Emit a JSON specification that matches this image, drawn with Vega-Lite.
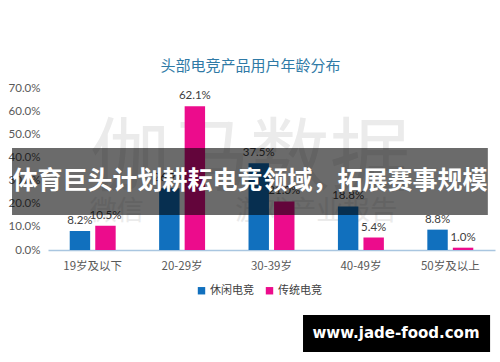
{
  "$schema": "https://vega.github.io/schema/vega-lite/v6.json",
  "width": 447,
  "height": 162,
  "autosize": {"type": "none"},
  "padding": {"left": 48, "top": 88, "right": 5, "bottom": 112},
  "background": "white",
  "config": {
    "view": {"stroke": null},
    "font": "Noto Sans CJK SC",
    "axisY": {"labelOverlap": false, "domain": false, "ticks": false, "gridDash": [3, 3], "gridColor": "#d9d9d9", "labelFontSize": 11.5, "labelColor": "#595959", "labelPadding": 8, "labelFont": "Lato"}
  },
  "title": {"text": "头部电竞产品用户年龄分布", "fontSize": 15, "fontWeight": "normal", "color": "#2f7aa6", "anchor": "middle", "dx": -21, "offset": 8},
  "data": {"values": [
    {"age": "19岁及以下", "type": "休闲电竞", "value": 0.082},
    {"age": "19岁及以下", "type": "传统电竞", "value": 0.105},
    {"age": "20-29岁", "type": "休闲电竞", "value": 0.267},
    {"age": "20-29岁", "type": "传统电竞", "value": 0.621},
    {"age": "30-39岁", "type": "休闲电竞", "value": 0.375},
    {"age": "30-39岁", "type": "传统电竞", "value": 0.210},
    {"age": "40-49岁", "type": "休闲电竞", "value": 0.188},
    {"age": "40-49岁", "type": "传统电竞", "value": 0.054},
    {"age": "50岁及以上", "type": "休闲电竞", "value": 0.088},
    {"age": "50岁及以上", "type": "传统电竞", "value": 0.010}
  ]},
  "layer": [
    {
      "data": {"values": [{}]},
      "mark": {"type": "text", "text": "伽马数据", "fontSize": 80, "color": "#ebebeb", "align": "center", "baseline": "middle"},
      "encoding": {
        "x": {"datum": 45.2, "type": "quantitative", "scale": {"domain": [0, 100]}, "axis": null},
        "y": {"datum": 0.389, "type": "quantitative", "scale": {"domain": [0, 0.7]}, "axis": {"title": null, "values": [0, 0.1, 0.2, 0.3, 0.4, 0.5, 0.6, 0.7], "format": ".1%"}}
      }
    },
    {
      "data": {"values": [{}]},
      "mark": {"type": "text", "text": "微信", "fontSize": 27, "color": "#ebebeb", "align": "center", "baseline": "middle"},
      "encoding": {
        "x": {"datum": 15.4, "type": "quantitative", "scale": {"domain": [0, 100]}, "axis": null},
        "y": {"datum": 0.164, "type": "quantitative", "scale": {"domain": [0, 0.7]}, "axis": {"title": null, "values": [0, 0.1, 0.2, 0.3, 0.4, 0.5, 0.6, 0.7], "format": ".1%"}}
      }
    },
    {
      "data": {"values": [{}]},
      "mark": {"type": "text", "text": "游戏产业报告", "fontSize": 27, "letterSpacing": 4, "color": "#ebebeb", "align": "center", "baseline": "middle"},
      "encoding": {
        "x": {"datum": 60.0, "type": "quantitative", "scale": {"domain": [0, 100]}, "axis": null},
        "y": {"datum": 0.164, "type": "quantitative", "scale": {"domain": [0, 0.7]}, "axis": {"title": null, "values": [0, 0.1, 0.2, 0.3, 0.4, 0.5, 0.6, 0.7], "format": ".1%"}}
      }
    },
    {
      "mark": {"type": "bar"},
      "encoding": {
        "x": {"field": "age", "type": "nominal", "sort": ["19岁及以下", "20-29岁", "30-39岁", "40-49岁", "50岁及以上"],
              "scale": {"paddingInner": 0.486, "paddingOuter": 0.243},
              "axis": {"title": null, "labelAngle": 0, "ticks": false, "domainColor": "#a9c6e0", "domainWidth": 1.5, "labelFontSize": 11.5, "labelColor": "#595959", "labelPadding": 10}},
        "xOffset": {"field": "type", "type": "nominal", "sort": ["休闲电竞", "传统电竞"], "scale": {"paddingInner": 0.2}},
        "y": {"field": "value", "type": "quantitative", "scale": {"domain": [0, 0.7]}, "axis": {"title": null, "values": [0, 0.1, 0.2, 0.3, 0.4, 0.5, 0.6, 0.7], "format": ".1%"}},
        "color": {"field": "type", "type": "nominal", "scale": {"domain": ["休闲电竞", "传统电竞"], "range": ["#1170be", "#ec0c8c"]},
                  "legend": {"title": null, "orient": "none", "legendX": 148, "legendY": 197, "direction": "horizontal", "symbolType": "square", "symbolSize": 55, "labelFontSize": 11, "labelOffset": 3, "labelColor": "#404040", "columnPadding": 10}}
      }
    },
    {
      "mark": {"type": "text", "baseline": "bottom", "dy": -5, "fontSize": 11.5, "color": "#404040", "font": "Lato"},
      "encoding": {
        "x": {"field": "age", "type": "nominal", "sort": ["19岁及以下", "20-29岁", "30-39岁", "40-49岁", "50岁及以上"],
              "scale": {"paddingInner": 0.486, "paddingOuter": 0.243}, "axis": null},
        "xOffset": {"field": "type", "type": "nominal", "sort": ["休闲电竞", "传统电竞"], "scale": {"paddingInner": 0.2}},
        "y": {"field": "value", "type": "quantitative", "scale": {"domain": [0, 0.7]}, "axis": {"title": null, "values": [0, 0.1, 0.2, 0.3, 0.4, 0.5, 0.6, 0.7], "format": ".1%"}},
        "text": {"field": "value", "type": "quantitative", "format": ".1%"}
      }
    },
    {
      "data": {"values": [{}]},
      "mark": {"type": "rect", "color": "#000000", "opacity": 0.58},
      "encoding": {
        "x": {"datum": -8.05, "type": "quantitative", "scale": {"domain": [0, 100]}, "axis": null},
        "x2": {"datum": 98.4},
        "y": {"datum": 0.4407, "type": "quantitative", "scale": {"domain": [0, 0.7]}, "axis": {"title": null, "values": [0, 0.1, 0.2, 0.3, 0.4, 0.5, 0.6, 0.7], "format": ".1%"}},
        "y2": {"datum": 0.1512}
      }
    },
    {
      "data": {"values": [{}]},
      "mark": {"type": "text", "text": "体育巨头计划耕耘电竞领域，拓展赛事规模", "fontSize": 25, "fontWeight": "bold", "color": "#ffffff", "align": "center", "baseline": "middle"},
      "encoding": {
        "x": {"datum": 45.2, "type": "quantitative", "scale": {"domain": [0, 100]}, "axis": null},
        "y": {"datum": 0.298, "type": "quantitative", "scale": {"domain": [0, 0.7]}, "axis": {"title": null, "values": [0, 0.1, 0.2, 0.3, 0.4, 0.5, 0.6, 0.7], "format": ".1%"}}
      }
    },
    {
      "data": {"values": [{}]},
      "mark": {"type": "rect", "color": "#000000", "opacity": 1},
      "encoding": {
        "x": {"datum": 57.05, "type": "quantitative", "scale": {"domain": [0, 100]}, "axis": null},
        "x2": {"datum": 98.9},
        "y": {"datum": -0.281, "type": "quantitative", "scale": {"domain": [0, 0.7]}, "axis": {"title": null, "values": [0, 0.1, 0.2, 0.3, 0.4, 0.5, 0.6, 0.7], "format": ".1%"}},
        "y2": {"datum": -0.441}
      }
    },
    {
      "data": {"values": [{}]},
      "mark": {"type": "text", "text": "www.jade-food.com", "font": "DejaVu Sans", "fontSize": 15, "fontWeight": "bold", "color": "#ffffff", "align": "center", "baseline": "middle"},
      "encoding": {
        "x": {"datum": 77.85, "type": "quantitative", "scale": {"domain": [0, 100]}, "axis": null},
        "y": {"datum": -0.359, "type": "quantitative", "scale": {"domain": [0, 0.7]}, "axis": {"title": null, "values": [0, 0.1, 0.2, 0.3, 0.4, 0.5, 0.6, 0.7], "format": ".1%"}}
      }
    }
  ],
  "resolve": {"scale": {"x": "independent"}}
}
